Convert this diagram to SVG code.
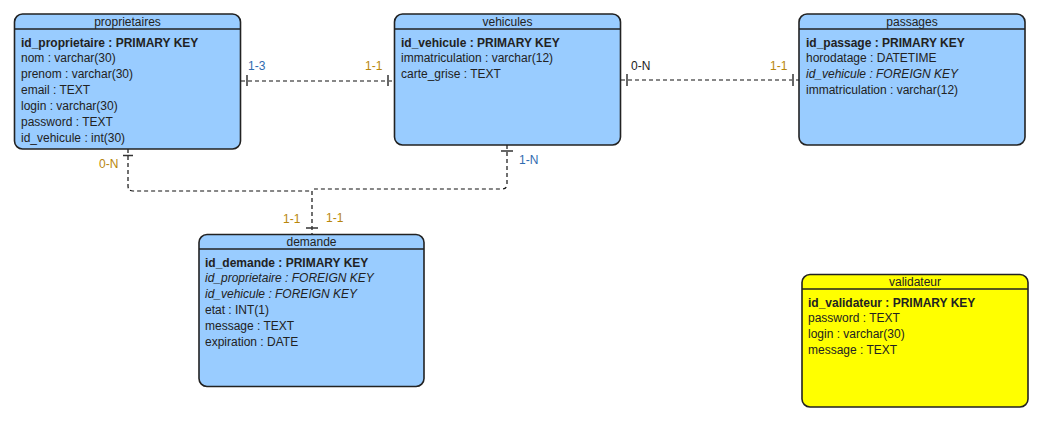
<svg xmlns="http://www.w3.org/2000/svg" width="1038" height="422" viewBox="0 0 1038 422">
<style>
.box{fill:#99ccff;stroke:#222;stroke-width:1.6}
.yel{fill:#ffff00;stroke:#222;stroke-width:1.6}
.sep{stroke:#222;stroke-width:1.6}
text{font-family:"Liberation Sans",Arial,sans-serif;font-size:12px;fill:#222}
.t{text-anchor:middle}
.pk{font-weight:bold}
.fk{font-style:italic}
.dash{fill:none;stroke:#111;stroke-width:1.2;stroke-dasharray:4 3}
.tick{stroke:#666;stroke-width:2}
.tickd{stroke:#333;stroke-width:1.5}
.lb{fill:#2f6bb0}
.lo{fill:#b8860b}
</style>
<rect width="1038" height="422" fill="#fff"/>
<g id="connectors">
<path class="dash" d="M241,81 H394"/>
<line class="tick" x1="247" y1="75" x2="247" y2="86"/>
<line class="tick" x1="388" y1="75" x2="388" y2="86"/>
<path class="dash" d="M621,80 H799"/>
<line class="tick" x1="627" y1="74" x2="627" y2="86"/>
<line class="tick" x1="793" y1="74" x2="793" y2="86"/>
<path class="dash" d="M128,149 V186 Q128,191 133,191 H312"/>
<path class="dash" d="M507,145 V184 Q507,189 502,189 H314"/>
<path class="dash" d="M312,191 V234"/>
<line class="tickd" x1="123" y1="155.5" x2="133" y2="155.5"/>
<line class="tick" x1="501" y1="151" x2="513" y2="151"/>
<line class="tickd" x1="306" y1="228" x2="318" y2="228"/>
<text class="lb" x="248" y="70">1-3</text>
<text class="lo" x="365" y="70">1-1</text>
<text x="631" y="70">0-N</text>
<text class="lo" x="770" y="70">1-1</text>
<text class="lo" x="99" y="168">0-N</text>
<text class="lb" x="519" y="164">1-N</text>
<text class="lo" x="283" y="223">1-1</text>
<text class="lo" x="326" y="222">1-1</text>
</g>
<g id="proprietaires">
<rect class="box" x="14.5" y="14" width="226" height="135" rx="8"/>
<line class="sep" x1="14.5" y1="29" x2="240.5" y2="29"/>
<text class="t" x="127.5" y="26">proprietaires</text>
<text class="pk" x="21" y="46.5">id_proprietaire : PRIMARY KEY</text>
<text x="21" y="62.3">nom : varchar(30)</text>
<text x="21" y="78.1">prenom : varchar(30)</text>
<text x="21" y="94">email : TEXT</text>
<text x="21" y="109.8">login : varchar(30)</text>
<text x="21" y="125.6">password : TEXT</text>
<text x="21" y="141.5">id_vehicule : int(30)</text>
</g>
<g id="vehicules">
<rect class="box" x="394.5" y="14" width="226" height="131" rx="8"/>
<line class="sep" x1="394.5" y1="29" x2="620.5" y2="29"/>
<text class="t" x="507.5" y="26">vehicules</text>
<text class="pk" x="401" y="46.5">id_vehicule : PRIMARY KEY</text>
<text x="401" y="62.3">immatriculation : varchar(12)</text>
<text x="401" y="78.1">carte_grise : TEXT</text>
</g>
<g id="passages">
<rect class="box" x="799" y="14" width="226" height="131" rx="8"/>
<line class="sep" x1="799" y1="29" x2="1025" y2="29"/>
<text class="t" x="912" y="26">passages</text>
<text class="pk" x="806" y="46.5">id_passage : PRIMARY KEY</text>
<text x="806" y="62.3">horodatage : DATETIME</text>
<text class="fk" x="806" y="78.1">id_vehicule : FOREIGN KEY</text>
<text x="806" y="94">immatriculation : varchar(12)</text>
</g>
<g id="demande">
<rect class="box" x="199" y="234.5" width="225" height="152" rx="8"/>
<line class="sep" x1="199" y1="249" x2="424" y2="249"/>
<text class="t" x="311.5" y="246">demande</text>
<text class="pk" x="205" y="266.5">id_demande : PRIMARY KEY</text>
<text class="fk" x="205" y="282.3">id_proprietaire : FOREIGN KEY</text>
<text class="fk" x="205" y="298.1">id_vehicule : FOREIGN KEY</text>
<text x="205" y="314">etat : INT(1)</text>
<text x="205" y="329.8">message : TEXT</text>
<text x="205" y="345.6">expiration : DATE</text>
</g>
<g id="validateur">
<rect class="yel" x="802" y="274.5" width="226" height="132.5" rx="8"/>
<line class="sep" x1="802" y1="289" x2="1028" y2="289"/>
<text class="t" x="915" y="286">validateur</text>
<text class="pk" x="808" y="306.5">id_validateur : PRIMARY KEY</text>
<text x="808" y="322.3">password : TEXT</text>
<text x="808" y="338.1">login : varchar(30)</text>
<text x="808" y="354">message : TEXT</text>
</g>
</svg>
